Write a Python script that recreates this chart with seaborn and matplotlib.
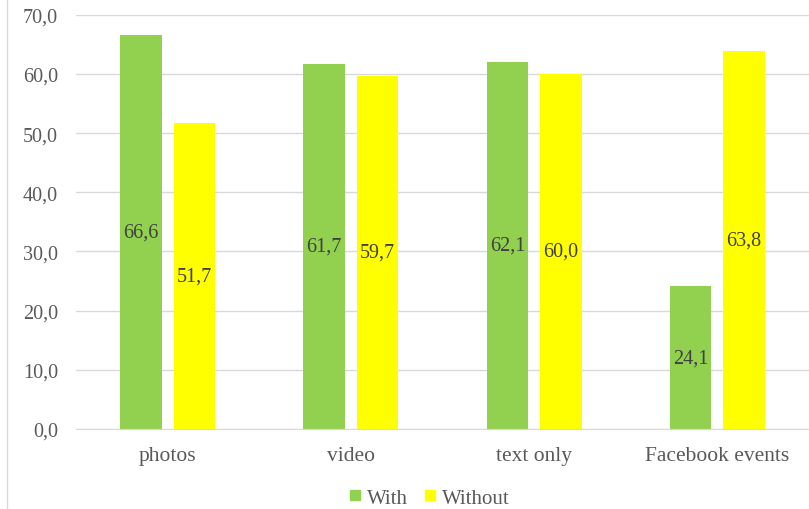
import matplotlib.pyplot as plt
import pandas as pd
import seaborn as sns
from matplotlib.lines import Line2D

categories = ['photos', 'video', 'text only', 'Facebook events']
with_values = [66.6, 61.7, 62.1, 24.1]
without_values = [51.7, 59.7, 60.0, 63.8]
series = ['With', 'Without']
colors = ['#92D050', '#FFFF00']
y_ticks = [0, 10, 20, 30, 40, 50, 60, 70]

df = pd.DataFrame({
    'category': categories * 2,
    'value': with_values + without_values,
    'series': ['With'] * len(categories) + ['Without'] * len(categories),
})

sns.set_style('white')
plt.rcParams['font.family'] = ['Liberation Serif', 'DejaVu Serif']

fig = plt.figure(figsize=(8.09, 5.10), dpi=100)
ax = fig.add_axes([0.094, 0.157, 0.906, 0.812])

sns.barplot(data=df, x='category', y='value', hue='series', palette=colors,
            width=0.583, gap=0.224, ax=ax, legend=False, saturation=1, linewidth=0)

for container in ax.containers:
    labels = [f'{v:.1f}'.replace('.', ',') for v in container.datavalues]
    ax.bar_label(container, labels=labels, label_type='center',
                 fontsize=14.5, color='#404040')

ax.set_ylim(0, 70)
ax.set_yticks(y_ticks)
ax.set_yticklabels([f'{t:.1f}'.replace('.', ',') for t in y_ticks])
ax.set_xlim(-0.5, 3.5)
ax.yaxis.grid(True, color='#D9D9D9', linewidth=1)
ax.set_axisbelow(True)
for s in ['top', 'right', 'left']:
    ax.spines[s].set_visible(False)
ax.spines['bottom'].set_color('#D9D9D9')
ax.tick_params(axis='both', colors='#595959', length=0)
ax.tick_params(axis='y', labelsize=14.5, pad=13)
ax.tick_params(axis='x', labelsize=15.5, pad=12)
ax.set_xlabel('')
ax.set_ylabel('')

handles = [Line2D([], [], marker='s', linestyle='', color=c, markersize=7.5) for c in colors]
fig.legend(handles, series, loc='center', bbox_to_anchor=(0.528, 0.022), ncol=2,
           frameon=False, fontsize=15, labelcolor='#595959', handletextpad=0.05,
           columnspacing=0.6, handlelength=1.0)

# thin border line on the left like the chart frame
fig.add_artist(Line2D([0.009, 0.009], [0, 1], color='#D9D9D9', linewidth=1))

fig.savefig('out.png', dpi=100)
